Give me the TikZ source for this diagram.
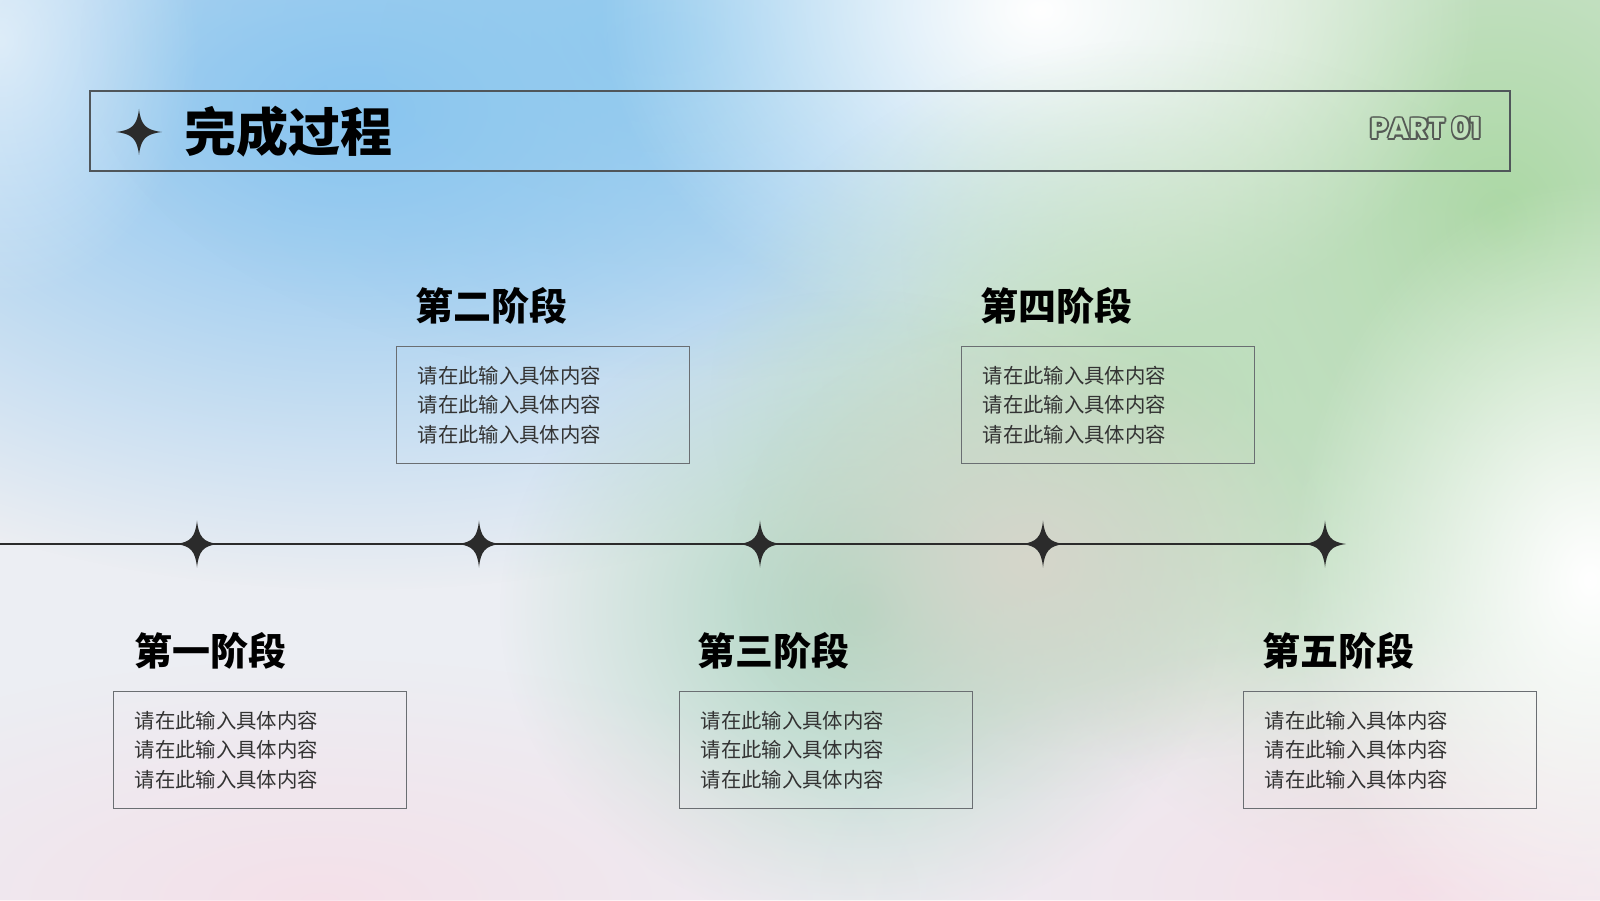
\documentclass[tikz,border=0pt]{standalone}
\usepackage{fontspec}
\usepackage{tikz}
\usetikzlibrary{positioning, fadings}
\newfontfamily\cjk{Noto Sans CJK SC}
\newfontfamily\partfont{Poppins}
\definecolor{ink}{HTML}{2B2B2B}
\definecolor{headline}{HTML}{50565A}
\definecolor{boxline}{HTML}{6A6E72}
\definecolor{bodytext}{HTML}{333333}
\definecolor{bgbase}{HTML}{ECEEF3}
\definecolor{skyblue}{HTML}{84C2F0}
\definecolor{paleblue}{HTML}{8FC9EE}
\definecolor{leafgreen}{HTML}{ABD8A4}
\definecolor{softgreen}{HTML}{BCDDBB}
\definecolor{seagreen}{HTML}{A9D3BD}
\definecolor{blush}{HTML}{F7DCE6}
\definecolor{sand}{HTML}{D6D6CB}
\definecolor{partfill}{HTML}{C2E2BD}
\definecolor{partline}{HTML}{555A55}
\tikzfading[name=blobfade, inner color=transparent!0, outer color=transparent!100]
\tikzstyle{blob} = [path fading=blobfade]
\tikzstyle{infobox} = [rectangle,
draw=boxline,
line width=0.35pt,
minimum width=2.93cm,
minimum height=1.17cm,
text width=2.51cm,
inner xsep=0.21cm,
align=left,
text=bodytext,
font=\cjk\fontsize{5.8}{8.4}\selectfont]
\tikzstyle{stagetitle} = [inner sep=0pt,
text=black,
font=\cjk\bfseries\fontsize{10.8}{12}\selectfont]
\tikzstyle{parttext} = [inner sep=0pt,
font=\partfont\bfseries\fontsize{8.2}{9}\selectfont]
\tikzset{sparkle/.pic={
\fill[ink] (0,1) .. controls (0.08,0.3) and (0.3,0.08) .. (1,0) .. controls (0.3,-0.08) and (0.08,-0.3) .. (0,-1)
  .. controls (-0.08,-0.3) and (-0.3,-0.08) .. (-1,0) .. controls (-0.3,0.08) and (-0.08,0.3) .. cycle;}}
\newcommand{\fillerlines}{请在此输入具体内容\\请在此输入具体内容\\请在此输入具体内容}

\begin{document}
\begin{tikzpicture}
            \useasboundingbox (0,0) rectangle (16,9);
            \fill[bgbase] (0,0) rectangle (16,9);
            \fill[skyblue, blob] (3.6,7.9) ellipse (8.0cm and 4.8cm);
            \fill[paleblue, blob] (6.8,8.6) ellipse (6.0cm and 3.4cm);
            \fill[white, blob, opacity=0.55] (0,8.6) ellipse (2.0cm and 2.6cm);
            \fill[leafgreen, blob] (15.0,6.8) ellipse (6.0cm and 7.0cm);
            \fill[white, blob] (10.4,8.9) ellipse (4.4cm and 3.4cm);
            \fill[softgreen, blob] (11.6,5.0) ellipse (4.5cm and 3.6cm);
            \fill[seagreen, blob] (8.6,2.9) ellipse (3.6cm and 3.2cm);
            \fill[sand, blob] (10.3,3.4) ellipse (3.0cm and 2.4cm);
            \fill[blush, blob, opacity=0.75] (3.2,0.0) ellipse (6.0cm and 2.4cm);
            \fill[blush, blob, opacity=0.8] (14.2,0.1) ellipse (6.0cm and 2.6cm);
            \fill[white, blob] (15.9,3.2) ellipse (3.0cm and 4.0cm);

            \node (header) [draw=headline, line width=0.35pt, minimum width=14.2cm, minimum height=0.8cm] at (8.0,7.69) {};
            \pic[scale=0.23] at (1.39,7.68) {sparkle};
            \node (title) [inner sep=0pt, anchor=west, font=\cjk\bfseries\fontsize{14.8}{16}\selectfont] at (1.84,7.68) {完成过程};
            \foreach \a in {0,30,...,330}
                \node[parttext, text=partline, anchor=east] at ([shift={(\a:0.45pt)}]14.82,7.72) {PART 01};
            \node (part) [parttext, text=partfill, anchor=east] at (14.82,7.72) {PART 01};

            \coordinate (start) at (0,3.56);
            \coordinate (s1) at (1.97,3.56);
            \coordinate (s2) at (4.79,3.56);
            \coordinate (s3) at (7.60,3.56);
            \coordinate (s4) at (10.43,3.56);
            \coordinate (s5) at (13.25,3.56);
            \draw [ink, line width=0.4pt] (start) -- (s5);
            \foreach \s in {s1,s2,s3,s4,s5}
                \pic[xscale=0.21, yscale=0.235] at (\s) {sparkle};

            \node (box1) [infobox, anchor=north west] at (1.13,2.09) {\fillerlines};
            \node (box2) [infobox, anchor=north west] at (3.96,5.54) {\fillerlines};
            \node (box3) [infobox, anchor=north west] at (6.79,2.09) {\fillerlines};
            \node (box4) [infobox, anchor=north west] at (9.61,5.54) {\fillerlines};
            \node (box5) [infobox, anchor=north west] at (12.43,2.09) {\fillerlines};

            \node (stage1) [stagetitle, above right=0.21cm and 0.21cm of box1.north west] {第一阶段};
            \node (stage2) [stagetitle, above right=0.21cm and 0.19cm of box2.north west] {第二阶段};
            \node (stage3) [stagetitle, above right=0.21cm and 0.18cm of box3.north west] {第三阶段};
            \node (stage4) [stagetitle, above right=0.21cm and 0.19cm of box4.north west] {第四阶段};
            \node (stage5) [stagetitle, above right=0.21cm and 0.19cm of box5.north west] {第五阶段};
        \end{tikzpicture}
\end{document}
